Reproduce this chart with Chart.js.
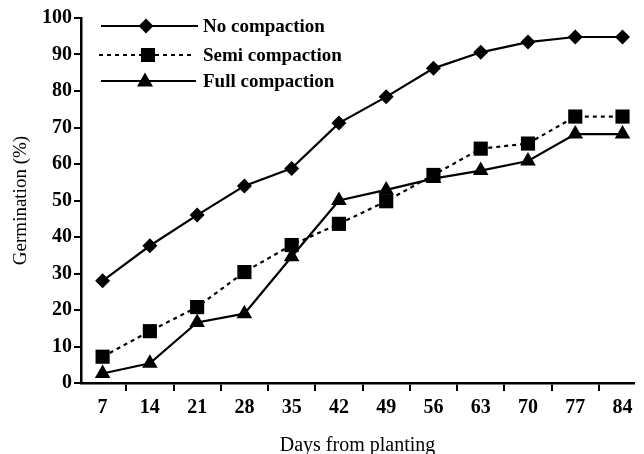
<!DOCTYPE html>
<html>
<head>
<meta charset="utf-8">
<script src="https://cdn.jsdelivr.net/npm/chart.js@4"></script>
<style>
  html, body { margin: 0; padding: 0; background: #fff; }
  #wrap { width: 644px; height: 454px; }
</style>
</head>
<body>
<div id="wrap"><canvas id="germChart" width="644" height="454"></canvas></div>
<script>
// days after planting
const days = [7, 14, 21, 28, 35, 42, 49, 56, 63, 70, 77, 84];
// germination %
const noCompaction = [28, 37.6, 46, 54, 58.8, 71.2, 78.4, 86.2, 90.6, 93.4, 94.8, 94.8];
const semiCompaction = [7.2, 14.2, 20.8, 30.4, 37.8, 43.6, 49.8, 57, 64.2, 65.6, 73, 73];
const fullCompaction = [2.6, 5.4, 16.6, 19, 34.6, 50, 52.9, 56, 58.2, 60.8, 68.2, 68.2];
const yTicks = [0, 10, 20, 30, 40, 50, 60, 70, 80, 90, 100];
const seriesNames = ['No compaction', 'Semi compaction', 'Full compaction'];

const pts = (vals) => days.map((d, i) => ({ x: d, y: vals[i] }));

// legend drawn the way the figure has it: line + marker + label
const legendPlugin = {
  id: 'lineLegend',
  afterDraw(chart) {
    const ctx = chart.ctx;
    const rows = [
      { y: 26, x0: 101, x1: 198, mx: 146, dash: [], style: 'diamond' },
      { y: 55, x0: 99, x1: 194, mx: 148, dash: [4, 4], style: 'square' },
      { y: 81, x0: 101, x1: 196, mx: 145, dash: [], style: 'triangle' }
    ];
    ctx.save();
    rows.forEach((r, i) => {
      ctx.strokeStyle = '#000';
      ctx.lineWidth = 2.2;
      ctx.setLineDash(r.dash);
      ctx.beginPath();
      ctx.moveTo(r.x0, r.y);
      ctx.lineTo(r.x1, r.y);
      ctx.stroke();
      ctx.setLineDash([]);
      ctx.fillStyle = '#000';
      ctx.beginPath();
      if (r.style === 'diamond') {
        ctx.moveTo(r.mx - 7.5, r.y); ctx.lineTo(r.mx, r.y - 7.5);
        ctx.lineTo(r.mx + 7.5, r.y); ctx.lineTo(r.mx, r.y + 7.5);
      } else if (r.style === 'square') {
        ctx.rect(r.mx - 7, r.y - 7, 14, 14);
      } else {
        ctx.moveTo(r.mx, r.y - 8.5); ctx.lineTo(r.mx + 8, r.y + 5.5);
        ctx.lineTo(r.mx - 8, r.y + 5.5);
      }
      ctx.closePath();
      ctx.fill();
      ctx.font = 'bold 19px "Liberation Serif"';
      ctx.textBaseline = 'middle';
      ctx.textAlign = 'left';
      ctx.fillText(seriesNames[i], 203, r.y + 1);
    });
    ctx.restore();
  }
};

const lineBase = {
  borderColor: '#000',
  backgroundColor: '#000',
  pointBackgroundColor: '#000',
  pointBorderColor: '#000',
  borderWidth: 2.2,
  pointBorderWidth: 0,
  tension: 0
};

new Chart(document.getElementById('germChart').getContext('2d'), {
  type: 'line',
  data: {
    datasets: [
      Object.assign({}, lineBase, {
        label: seriesNames[0], data: pts(noCompaction),
        pointStyle: 'rectRot', pointRadius: 7.5
      }),
      Object.assign({}, lineBase, {
        label: seriesNames[1], data: pts(semiCompaction),
        borderDash: [4, 4], pointStyle: 'rect', pointRadius: 10
      }),
      Object.assign({}, lineBase, {
        label: seriesNames[2], data: pts(fullCompaction),
        pointStyle: 'triangle', pointRadius: 9
      })
    ]
  },
  options: {
    responsive: false,
    animation: false,
    layout: { padding: { top: 18, right: 1, left: 0, bottom: 0 } },
    plugins: {
      legend: { display: false },
      tooltip: { enabled: false }
    },
    scales: {
      x: {
        type: 'linear',
        min: 3.8,
        max: 85.7,
        afterBuildTicks(scale) {
          const t = [];
          days.forEach(d => t.push({ value: d }));
          days.slice(0, -1).forEach(d => t.push({ value: d + 3.5 }));
          scale.ticks = t.sort((a, b) => a.value - b.value);
        },
        afterFit(scale) { scale.height = 71; },
        ticks: {
          autoSkip: false,
          maxRotation: 0,
          padding: 5,
          color: '#000',
          font: { family: '"Liberation Serif"', weight: 'bold', size: 20 },
          callback: (v) => (days.includes(v) ? String(v) : '')
        },
        grid: {
          drawOnChartArea: false,
          drawTicks: true,
          tickLength: 8,
          lineWidth: 2,
          color: (c) => (c.tick && days.includes(c.tick.value) ? 'rgba(0,0,0,0)' : '#000')
        },
        border: { display: true, color: '#000', width: 2.5 },
        title: {
          display: true,
          text: 'Days from planting',
          color: '#000',
          font: { family: '"Liberation Serif"', size: 20, lineHeight: 0.8 },
          padding: { top: 0, bottom: 0 }
        }
      },
      y: {
        min: 0,
        max: 100,
        afterBuildTicks(scale) {
          scale.ticks = yTicks.map(v => ({ value: v }));
        },
        afterFit(scale) { scale.width = 81; },
        ticks: {
          padding: 2,
          color: '#000',
          font: { family: '"Liberation Serif"', weight: 'bold', size: 20 }
        },
        grid: {
          drawOnChartArea: false,
          drawTicks: true,
          tickLength: 7,
          lineWidth: 2,
          color: '#000'
        },
        border: { display: true, color: '#000', width: 2.5 },
        title: {
          display: true,
          text: 'Germination (%)',
          color: '#000',
          font: { family: '"Liberation Serif"', size: 19 },
          padding: { top: 10, bottom: 0 }
        }
      }
    }
  },
  plugins: [legendPlugin]
});
</script>
</body>
</html>
